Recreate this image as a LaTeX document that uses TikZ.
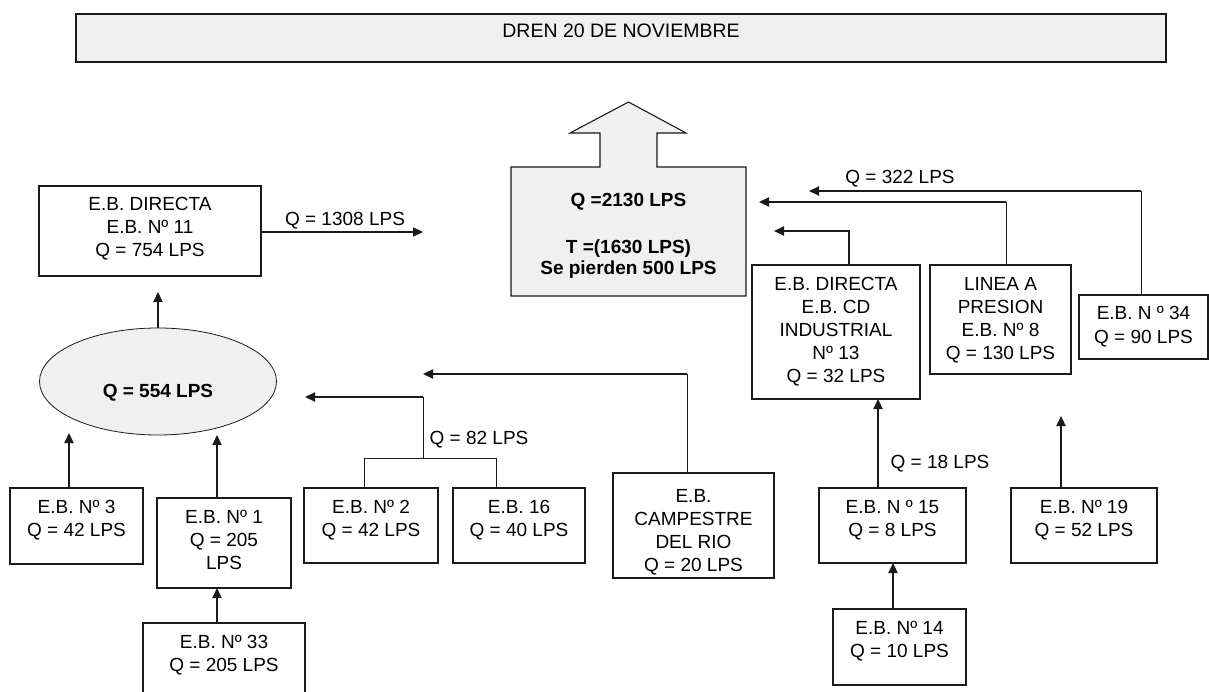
\documentclass[tikz,border=0pt]{standalone}
\usepackage{fontspec}
\setmainfont{Liberation Sans}
\usetikzlibrary{arrows.meta,shapes.geometric}
\definecolor{panel}{HTML}{F0F0F0}
\definecolor{ink}{HTML}{1A1A1A}
\newcommand{\bt}[4][11pt]{\parbox[c][#3][t]{#2}{\centering\vspace*{#1}\fontsize{19}{23}\selectfont\rule{0pt}{14pt}#4\par}}
\tikzset{
  box/.style={draw=ink, line width=1.1pt, inner sep=0pt, outer sep=0pt},
  lbl/.style={inner sep=0pt, font=\fontsize{19}{23}\selectfont},
  arr/.style={-{Triangle[length=10pt,width=9pt]}},
  thk/.style={line width=2.2pt, draw=ink},
  thn/.style={line width=1pt, draw=ink},
}
\begin{document}
\begin{tikzpicture}[x=1pt,y=-1pt]
\useasboundingbox (0,0) rectangle (1209,692);
\fill[white] (0,0) rectangle (1209,692);

% title
\node[box, fill=panel, minimum width=1090pt, minimum height=48pt, text height=10pt, text depth=10pt, font=\fontsize{19.5}{23}\selectfont] (title) at (621,38) {DREN 20 DE NOVIEMBRE};
\draw[ink, line width=2pt] (title.south west) -- (title.south east) -- (title.north east);

% main outlet shape
\draw[fill=panel, draw=ink, line width=1.1pt] (511,167) -- (600,167) -- (600,133) -- (570,133) -- (628.5,102) -- (686,133) -- (657,133) -- (657,167) -- (746,167) -- (746,296) -- (511,296) -- cycle;
\node[inner sep=0pt] (main) at (628.5,231.5) {\parbox[c][129pt][t]{235pt}{\centering\vspace*{25.3pt}\bfseries\fontsize{19}{21}\selectfont\rule{0pt}{14pt}Q =2130 LPS\\[26pt]T =(1630 LPS)\\Se pierden 500 LPS\par}};

% left side
\node[box] (eb11) at (150,231) {\bt{222pt}{90pt}{E.B. DIRECTA\\E.B. Nº 11\\Q = 754 LPS}};
\node[ellipse, draw=ink, line width=0.8pt, fill=panel, minimum width=237pt, minimum height=107pt, inner sep=0pt, text height=31pt, text depth=0pt, font=\bfseries\fontsize{19}{23}\selectfont] (ell) at (158,381.5) {Q = 554 LPS};
\node[box] (eb3) at (76.5,526) {\bt{133pt}{76pt}{E.B. Nº 3\\Q = 42 LPS}};
\node[box] (eb1) at (224,543) {\bt{134pt}{90pt}{E.B. Nº 1\\Q = 205\\LPS}};
\node[box] (eb33) at (224,663) {\bt{162pt}{80pt}{E.B. Nº 33\\Q = 205 LPS}};
\node[box] (eb2) at (371,525.5) {\bt{134pt}{75pt}{E.B. Nº 2\\Q = 42 LPS}};
\node[box] (eb16) at (519,525.5) {\bt{132pt}{75pt}{E.B. 16\\Q = 40 LPS}};
\node[box] (camp) at (693.5,525.5) {\bt[15pt]{161pt}{105pt}{E.B.\\CAMPESTRE\\DEL RIO\\Q = 20 LPS}};
\draw[ink, line width=2pt] (camp.north west) -- (camp.north east);

% right side
\node[box] (eb13) at (836,332) {\bt{168pt}{134pt}{E.B. DIRECTA\\E.B. CD\\INDUSTRIAL\\Nº 13\\Q = 32 LPS}};
\node[box] (linea) at (1000.5,319.5) {\bt{141pt}{109pt}{LINEA A\\PRESION\\E.B. Nº 8\\Q = 130 LPS}};
\node[box] (eb34) at (1143.5,327) {\bt{129pt}{64pt}{E.B. N º 34\\Q = 90 LPS}};
\node[box] (eb15) at (892.5,525.5) {\bt{147pt}{75pt}{E.B. N º 15\\Q = 8 LPS}};
\node[box] (eb14) at (899.5,647) {\bt{133pt}{76pt}{E.B. Nº 14\\Q = 10 LPS}};
\node[box] (eb19) at (1084,525.5) {\bt{146pt}{75pt}{E.B. Nº 19\\Q = 52 LPS}};

% coordinates for connector ends
\coordinate (o1308) at (423,232);
\coordinate (t11) at (158,292);
\coordinate (t3) at (69,433);
\coordinate (t1) at (217,435);
\coordinate (b2) at (364,458);
\coordinate (b16) at (496,458);
\coordinate (bc) at (423,458);
\coordinate (bt) at (423,397);
\coordinate (btip) at (305,397);
\coordinate (cc) at (687,374);
\coordinate (ctip) at (423,374);
\coordinate (k15) at (878,399);
\coordinate (k14) at (893,563);
\coordinate (t19) at (1061,416);
\coordinate (c13) at (849,231);
\coordinate (tip13) at (774,231);
\coordinate (cl) at (1006,202);
\coordinate (tipl) at (759,202);
\coordinate (c34) at (1141,191);
\coordinate (tip34) at (809,191);

% connectors
\draw[thk, arr] (eb11.east |- o1308) -- (o1308);
\draw[thk, arr] (ell.north -| t11) -- (t11);
\draw[thk, arr] (eb3.north -| t3) -- (t3);
\draw[thk, arr] (eb1.north -| t1) -- (t1);
\draw[thk, arr] (eb33.north -| t1) -- (eb1.south -| t1);
\draw[thn] (eb2.north -| b2) -- (b2) -- (b16) -- (eb16.north -| b16);
\draw[thn] (bc) -- (bt);
\draw[thk, arr] (bt) -- (btip);
\draw[thn] (camp.north -| cc) -- (cc);
\draw[thk, arr] (cc) -- (ctip);
\draw[thk, arr] (eb15.north -| k15) -- (eb13.south -| k15);
\draw[thk, arr] (eb14.north -| k14) -- (eb15.south -| k14);
\draw[thk, arr] (eb19.north -| t19) -- (t19);
\draw[thk, arr] (eb13.north -| c13) -- (c13) -- (tip13);
\draw[thn] (linea.north -| cl) -- (cl);
\draw[thk, arr] (cl) -- (tipl);
\draw[thn] (eb34.north -| c34) -- (c34);
\draw[line width=1.8pt, draw=ink, arr] (c34) -- (tip34);

% labels
\node[lbl] (l1308) at (345,221) {Q = 1308 LPS};
\node[lbl] (l322) at (900,179) {Q = 322 LPS};
\node[lbl] (l82) at (479,440) {Q = 82 LPS};
\node[lbl] (l18) at (940,464) {Q = 18 LPS};
\end{tikzpicture}
\end{document}
